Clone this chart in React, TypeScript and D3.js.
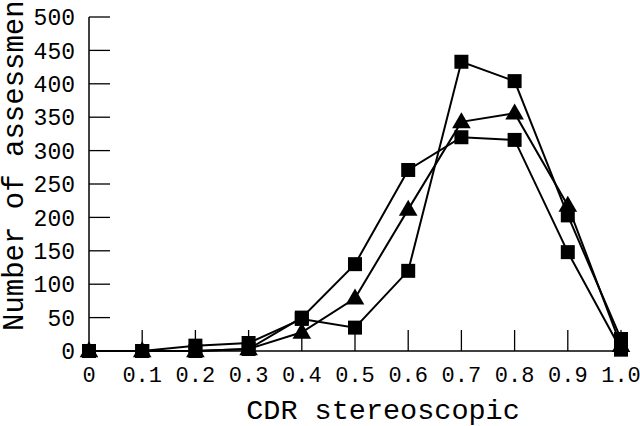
import React, { useEffect, useRef } from "react";
import * as d3 from "d3";

// CDR stereoscopic values on the x axis
const cdr = [0, 0.1, 0.2, 0.3, 0.4, 0.5, 0.6, 0.7, 0.8, 0.9, 1.0];
const xTickLabels = ["0", "0.1", "0.2", "0.3", "0.4", "0.5", "0.6", "0.7", "0.8", "0.9", "1.0"];
const yTicks = [0, 50, 100, 150, 200, 250, 300, 350, 400, 450, 500];

// three sets of assessments
const squaresPeaked = [0, 0, 8, 12, 48, 35, 120, 433, 404, 203, 18];
const squaresBroad = [0, 0, 0, 3, 50, 130, 271, 320, 316, 148, 2];
const triangles = [0, 0, 0, 3, 28, 79, 212, 343, 356, 218, 8];

const font = "'Liberation Mono', 'Courier New', monospace";

export default function App() {
  const ref = useRef<SVGSVGElement>(null);

  useEffect(() => {
    const svg = d3.select(ref.current);
    svg.selectAll("*").remove();

    const x = d3.scaleLinear().domain([0, 1]).range([89, 621]);
    const y = d3.scaleLinear().domain([0, 500]).range([351, 17]);

    // axes lines
    svg.append("line")
      .attr("x1", x(0)).attr("x2", x(0))
      .attr("y1", y(0)).attr("y2", y(500))
      .attr("stroke", "#000").attr("stroke-width", 1.5);
    svg.append("line")
      .attr("x1", x(0)).attr("x2", x(1))
      .attr("y1", y(0)).attr("y2", y(0))
      .attr("stroke", "#000").attr("stroke-width", 1.5);

    // y ticks (pointing inward)
    svg.selectAll(".ytick")
      .data(yTicks)
      .join("line")
      .attr("x1", x(0)).attr("x2", x(0) + 21)
      .attr("y1", d => y(d)).attr("y2", d => y(d))
      .attr("stroke", "#000").attr("stroke-width", 1.3);
    svg.selectAll(".ylab")
      .data(yTicks)
      .join("text")
      .attr("x", 75)
      .attr("y", d => y(d))
      .attr("dy", "0.36em")
      .attr("text-anchor", "end")
      .attr("font-family", font)
      .attr("font-size", 23)
      .text(d => d);

    // x ticks (pointing up)
    svg.selectAll(".xtick")
      .data(cdr.slice(1))
      .join("line")
      .attr("x1", d => x(d)).attr("x2", d => x(d))
      .attr("y1", y(0)).attr("y2", y(0) - 21)
      .attr("stroke", "#000").attr("stroke-width", 1.3);
    svg.selectAll(".xlab")
      .data(cdr)
      .join("text")
      .attr("x", d => x(d))
      .attr("y", 382)
      .attr("text-anchor", "middle")
      .attr("font-family", font)
      .attr("font-size", 22)
      .text((d, i) => xTickLabels[i]);

    // axis titles
    svg.append("text")
      .attr("x", 383)
      .attr("y", 419)
      .attr("text-anchor", "middle")
      .attr("font-family", font)
      .attr("font-size", 28.5)
      .text("CDR stereoscopic");
    svg.append("text")
      .attr("transform", "translate(23, 331) rotate(-90)")
      .attr("text-anchor", "start")
      .attr("font-family", font)
      .attr("font-size", 29)
      .text("Number of assessments");

    const line = d3.line<number>()
      .x((d, i) => x(cdr[i]))
      .y(d => y(d));

    const series = [
      { values: squaresBroad, marker: "square" },
      { values: triangles, marker: "triangle" },
      { values: squaresPeaked, marker: "square" },
    ];

    series.forEach(s => {
      svg.append("path")
        .datum(s.values)
        .attr("d", line)
        .attr("fill", "none")
        .attr("stroke", "#000")
        .attr("stroke-width", 2);
    });

    series.forEach(s => {
      const sym = d3.symbol()
        .type(s.marker === "square" ? d3.symbolSquare : d3.symbolTriangle)
        .size(s.marker === "square" ? 196 : 150);
      svg.selectAll(null)
        .data(s.values)
        .join("path")
        .attr("transform", (d, i) => `translate(${x(cdr[i])},${y(d) + (s.marker === "triangle" ? 1 : 0)})`)
        .attr("d", sym)
        .attr("fill", "#000");
    });
  }, []);

  return (
    <svg
      ref={ref}
      width={640}
      height={426}
      style={{ position: "absolute", left: 0, top: 0, background: "#fff" }}
    />
  );
}
